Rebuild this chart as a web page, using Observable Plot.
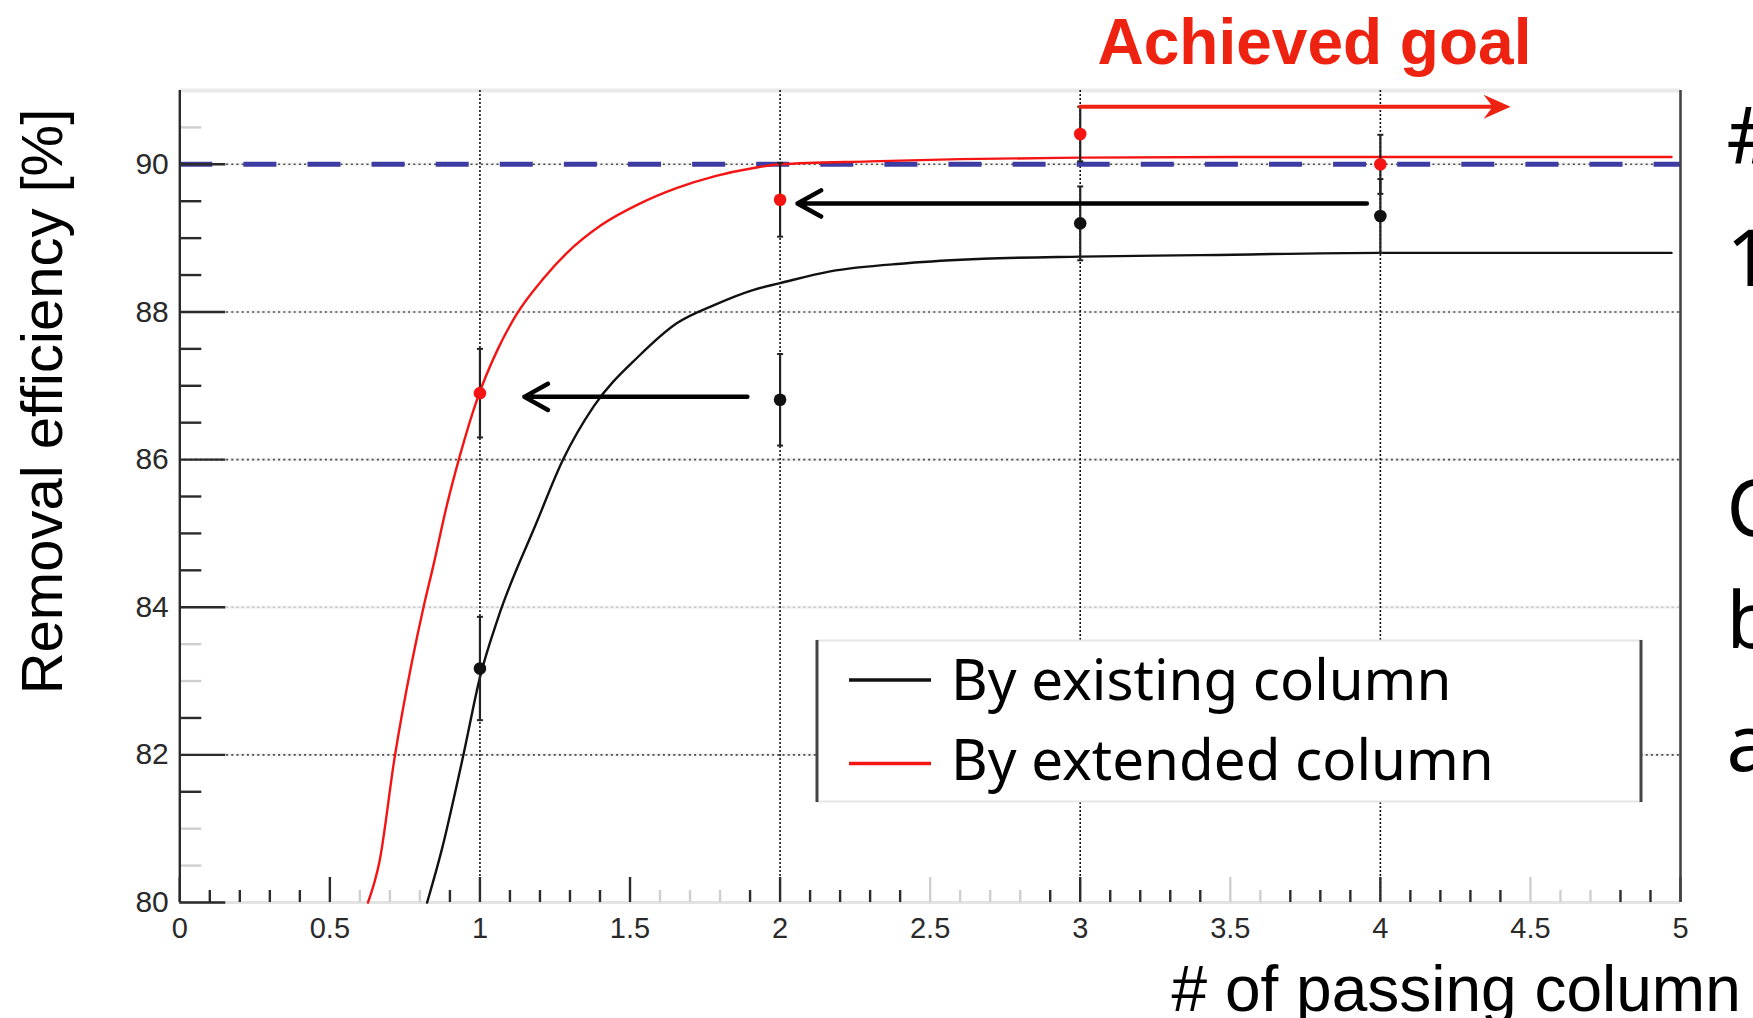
<!DOCTYPE html>
<html>
<head>
<meta charset="utf-8">
<script src="https://cdn.jsdelivr.net/npm/d3@7"></script>
<script src="https://cdn.jsdelivr.net/npm/@observablehq/plot@0.6"></script>
<style>
  html, body { margin: 0; padding: 0; background: #fff; overflow: hidden; }
  #wrap { position: relative; width: 1753px; height: 1018px; overflow: hidden; background: #fff; }
  #wrap > svg { position: absolute; left: 0; top: 0; }
</style>
</head>
<body>
<div id="wrap"></div>
<script>
// ---------------- data ----------------
const xTicks = [0, 0.5, 1, 1.5, 2, 2.5, 3, 3.5, 4, 4.5, 5];
const yTicks = [80, 82, 84, 86, 88, 90];
const columns = [1, 2, 3, 4];
const existingEff = [83.17, 86.81, 89.20, 89.30];
const existingErr = [0.70, 0.62, 0.50, 0.50];
const extendedEff = [86.90, 89.52, 90.41, 90.00];
const extendedErr = [0.60, 0.50, 0.37, 0.40];
const existingFit = [
  [0.824, 80.0], [0.875, 80.75], [0.926, 81.65], [0.945, 82.0], [1.0, 83.05],
  [1.060, 83.85], [1.188, 85.14], [1.277, 86.0], [1.379, 86.72], [1.529, 87.40],
  [1.657, 87.85], [1.784, 88.10], [1.912, 88.30], [2.0, 88.39],
  [2.167, 88.55], [2.422, 88.66], [2.677, 88.72], [3.0, 88.75], [3.4, 88.77],
  [4.0, 88.8], [4.97, 88.8]
];
const extendedFit = [
  [0.627, 80.0], [0.665, 80.55], [0.716, 81.97], [0.773, 83.25], [0.812, 84.0],
  [0.844, 84.55], [0.888, 85.35], [0.933, 86.05], [0.990, 86.81], [1.060, 87.50],
  [1.124, 87.98], [1.213, 88.46], [1.290, 88.80], [1.402, 89.17], [1.529, 89.46],
  [1.657, 89.68], [1.784, 89.84], [1.912, 89.95], [2.0, 90.0],
  [2.3, 90.04], [2.6, 90.07], [3.0, 90.09], [3.5, 90.1], [4.0, 90.1], [4.97, 90.1]
];
const goal = 90;
const seriesNames = ["By existing column", "By extended column"];
const blackArrows = [ {x1: 3.955, x2: 2.058, y: 89.47}, {x1: 1.891, x2: 1.148, y: 86.85} ];
const goalArrow = [ {x1: 3.0, x2: 4.434, y: 90.78} ];
const goalLabel = "Achieved goal";
const xTitle = "# of passing column";
const yTitle = "Removal efficiency [%]";
const sideNotes = ["#", "1", "C", "b", "a"];

// ---------------- style / layout ----------------
const W = 1753, H = 1018;
const mL = 179.3, mR = 73, mT = 90, mB = 116;
const frameW = W - mL - mR, frameH = H - mT - mB;
const RED = "#f41414", TXTRED = "#ee2211", BLUE = "#3c3ca3";
const seriesColors = ["#111111", RED];
const sideBaselines = [162, 285, 535, 647, 770];
const xFaint = new Set([6,7,8,16,17,18,25,26,27,28,35,36,45,46,47]);
const yFaint = new Set([905, 835, 830, 810, 805]);

const xMinor = d3.range(1, 50).filter(i => i % 5 !== 0).map(i => i / 10);
const xMajor = d3.range(0, 51, 5).map(i => i / 10);
const yMinor = d3.range(161, 182).filter(i => i % 4 !== 0).map(i => i / 2);
const yMajor = yTicks;

const pts = (eff, err) => columns.map((c, i) => ({x: c, y: eff[i], lo: eff[i] - err[i], hi: eff[i] + err[i]}));
const existingPts = pts(existingEff, existingErr);
const extendedPts = pts(extendedEff, extendedErr);

const notchedHead = {
  draw(ctx) { ctx.moveTo(0, 0); ctx.lineTo(-27, -12); ctx.lineTo(-18, 0); ctx.lineTo(-27, 12); ctx.closePath(); }
};
const cap = { draw(ctx) { ctx.moveTo(-3, 0); ctx.lineTo(3, 0); } };

const tickColor = v => v ? "#cfcfcf" : "#2b2b2b";

const plot = Plot.plot({
  width: W, height: H,
  marginLeft: mL, marginRight: mR, marginTop: mT, marginBottom: mB,
  x: {domain: [0, 5]},
  y: {domain: [80, 91]},
  style: {background: "white", fontFamily: "'Liberation Sans', Arial, Helvetica, sans-serif", overflow: "hidden"},
  marks: [
    // frame
    Plot.ruleY([91], {stroke: "#e9e9e9", strokeWidth: 4}),
    Plot.ruleY([80], {stroke: "#e3e3e3", strokeWidth: 3}),
    // horizontal grid
    Plot.ruleY([82, 84, 86, 88, 90], {stroke: "#f1f1f1", strokeWidth: 3}),
    Plot.ruleY([82, 86, 88, 90], {stroke: "#4a4a4a", strokeWidth: 1.6, strokeDasharray: "2,3.2"}),
    Plot.ruleY([84], {stroke: "#c4c4c4", strokeWidth: 1.6, strokeDasharray: "2,3.2"}),
    // vertical grid
    Plot.ruleX([1, 2, 3, 4], {stroke: "#111", strokeWidth: 1.6, strokeDasharray: "2,2"}),
    // goal line
    Plot.ruleY([goal], {stroke: BLUE, strokeWidth: 5, strokeDasharray: "33,31.1"}),
    // fit curves
    Plot.line(existingFit, {x: d => d[0], y: d => d[1], stroke: seriesColors[0], strokeWidth: 2.4, curve: "monotone-x"}),
    Plot.line(extendedFit, {x: d => d[0], y: d => d[1], stroke: seriesColors[1], strokeWidth: 2.4, curve: "monotone-x"}),
    // error bars
    Plot.ruleX(existingPts, {x: "x", y1: "lo", y2: "hi", stroke: "#222", strokeWidth: 2.2}),
    Plot.ruleX(extendedPts, {x: "x", y1: "lo", y2: "hi", stroke: "#222", strokeWidth: 2.2}),
    Plot.dot([...existingPts, ...extendedPts], {x: "x", y: "lo", r: 3, symbol: cap, stroke: "#222", strokeWidth: 2, fill: "none"}),
    Plot.dot([...existingPts, ...extendedPts], {x: "x", y: "hi", r: 3, symbol: cap, stroke: "#222", strokeWidth: 2, fill: "none"}),
    Plot.dot(existingPts, {x: "x", y: "y", r: 6.3, fill: "#111", stroke: "none"}),
    Plot.dot(extendedPts, {x: "x", y: "y", r: 6.3, fill: RED, stroke: "none"}),
    // arrows
    Plot.arrow(blackArrows, {x1: "x1", x2: "x2", y1: "y", y2: "y", stroke: "#000", strokeWidth: 4.5, headLength: 9, headAngle: 58}),
    Plot.arrow(goalArrow, {x1: "x1", x2: "x2", y1: "y", y2: "y", stroke: TXTRED, strokeWidth: 4, headLength: 0, insetEnd: 16}),
    Plot.dot(goalArrow, {x: "x2", y: "y", r: 10, symbol: notchedHead, fill: TXTRED, stroke: "none"}),
    // ticks
    Plot.tickX(xMinor, {x: d => d, insetTop: frameH - 12, strokeWidth: 2.4, stroke: d => tickColor(xFaint.has(Math.round(d * 10)))}),
    Plot.tickX(xMajor, {x: d => d, insetTop: frameH - 25, strokeWidth: 2.4, stroke: d => tickColor(xFaint.has(Math.round(d * 10)))}),
    Plot.tickY(yMinor, {y: d => d, insetRight: frameW - 22, strokeWidth: 2.4, stroke: d => tickColor(yFaint.has(Math.round(d * 10)))}),
    Plot.tickY(yMajor, {y: d => d, insetRight: frameW - 46, strokeWidth: 2.4, stroke: "#2b2b2b"}),
    Plot.ruleX([0], {stroke: "#2a2a2a", strokeWidth: 2.4}),
    Plot.ruleX([5], {stroke: "#444", strokeWidth: 2.6}),
    // axes labels
    Plot.axisY({ticks: yTicks, tickSize: 0, tickPadding: 11, fontSize: 30, label: null, color: "#2a2a2a", tickFormat: d => String(d)}),
    Plot.axisX({ticks: xTicks, tickSize: 0, tickPadding: 15, fontSize: 29, label: null, color: "#2a2a2a", tickFormat: d => String(d)}),
    // titles
    Plot.text([yTitle], {text: d => d, frameAnchor: "left", rotate: -90, dx: 43 - mL, dy: 401 - (mT + frameH / 2),
      fontSize: 58, textAnchor: "middle", lineAnchor: "middle", fill: "#000"}),
    Plot.text([xTitle], {text: d => d, frameAnchor: "bottom-left", dx: 1171 - mL, dy: 1010 - (H - mB),
      fontSize: 64, textAnchor: "start", lineAnchor: "bottom", fill: "#000"}),
    Plot.text([goalLabel], {text: d => d, frameAnchor: "top-left", dx: 1097 - mL, dy: 63 - mT,
      fontSize: 64, fontWeight: "bold", textAnchor: "start", lineAnchor: "bottom", fill: TXTRED}),
    ...sideNotes.map((t, i) => Plot.text([t], {text: d => d, frameAnchor: "top-right", dx: 1726 - (W - mR), dy: sideBaselines[i] - mT,
      fontSize: 78, fontFamily: "'Noto Sans', sans-serif", textAnchor: "start", lineAnchor: "bottom", fill: "#000"}))
  ]
});

const wrap = document.getElementById("wrap");
wrap.appendChild(plot);

// ---------------- legend (overlay) ----------------
const lg = d3.select(wrap).append("svg")
  .attr("width", 828).attr("height", 164)
  .style("left", "815px").style("top", "639px").style("position", "absolute");
lg.append("rect").attr("x", 1.5).attr("y", 1.5).attr("width", 825).attr("height", 161).attr("fill", "#fff");
lg.append("line").attr("x1", 1.5).attr("x2", 826.5).attr("y1", 1.5).attr("y2", 1.5).attr("stroke", "#e6e6e6").attr("stroke-width", 2);
lg.append("line").attr("x1", 1.5).attr("x2", 826.5).attr("y1", 162.5).attr("y2", 162.5).attr("stroke", "#e6e6e6").attr("stroke-width", 2);
lg.append("line").attr("x1", 2).attr("x2", 2).attr("y1", 1).attr("y2", 163).attr("stroke", "#444").attr("stroke-width", 3);
lg.append("line").attr("x1", 826).attr("x2", 826).attr("y1", 1).attr("y2", 163).attr("stroke", "#444").attr("stroke-width", 3);
const rowY = [41, 124.5];
const baseY = [61, 141];
seriesNames.forEach((name, i) => {
  lg.append("line").attr("x1", 34).attr("x2", 116).attr("y1", rowY[i]).attr("y2", rowY[i])
    .attr("stroke", seriesColors[i]).attr("stroke-width", 3.5);
  lg.append("text").attr("x", 136).attr("y", baseY[i]).text(name)
    .attr("font-family", "'Noto Sans', sans-serif").attr("font-size", 56.5).attr("fill", "#000");
});
</script>
</body>
</html>
